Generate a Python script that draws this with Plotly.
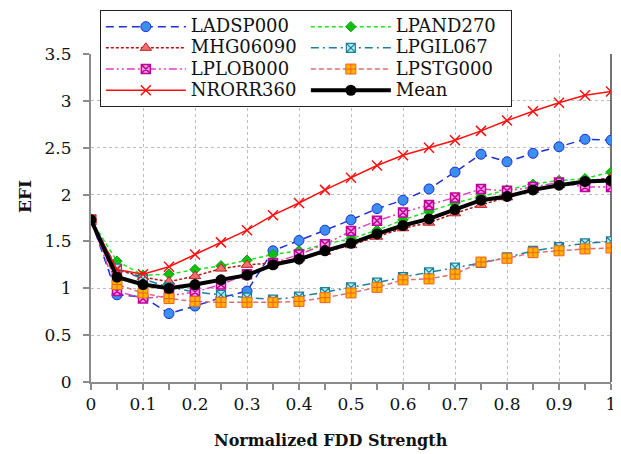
import plotly.graph_objects as go

# FDD strength steps
strength = [0, 0.05, 0.1, 0.15, 0.2, 0.25, 0.3, 0.35, 0.4, 0.45, 0.5,
            0.55, 0.6, 0.65, 0.7, 0.75, 0.8, 0.85, 0.9, 0.95, 1.0]

ladsp000 = [1.73, 0.93, 0.91, 0.73, 0.81, 0.90, 0.97, 1.40, 1.51, 1.62, 1.73,
            1.85, 1.94, 2.06, 2.24, 2.43, 2.35, 2.44, 2.51, 2.59, 2.58]
lpand270 = [1.73, 1.29, 1.14, 1.15, 1.20, 1.24, 1.30, 1.36, 1.40, 1.47, 1.53,
            1.62, 1.73, 1.82, 1.91, 1.98, 2.05, 2.11, 2.15, 2.17, 2.24]
mhg06090 = [1.73, 1.20, 1.12, 1.07, 1.13, 1.21, 1.25, 1.27, 1.32, 1.39, 1.46,
            1.55, 1.64, 1.70, 1.80, 1.89, 1.97, 2.05, 2.10, 2.14, 2.18]
lpgil067 = [1.73, 1.21, 1.10, 1.01, 0.96, 0.93, 0.90, 0.88, 0.91, 0.96, 1.01,
            1.06, 1.12, 1.17, 1.22, 1.27, 1.33, 1.40, 1.44, 1.48, 1.50]
lplob000 = [1.73, 0.97, 0.89, 0.92, 0.96, 1.04, 1.15, 1.27, 1.36, 1.47, 1.61,
            1.72, 1.81, 1.89, 1.97, 2.06, 2.04, 2.08, 2.13, 2.08, 2.08]
lpstg000 = [1.73, 1.04, 0.95, 0.89, 0.86, 0.85, 0.85, 0.85, 0.86, 0.90, 0.95,
            1.01, 1.09, 1.10, 1.15, 1.28, 1.32, 1.38, 1.40, 1.42, 1.43]
nrorr360 = [1.73, 1.20, 1.15, 1.23, 1.36, 1.49, 1.62, 1.78, 1.91, 2.05, 2.18,
            2.31, 2.42, 2.50, 2.58, 2.68, 2.79, 2.89, 2.98, 3.06, 3.10]
mean_efi = [1.73, 1.12, 1.04, 1.00, 1.04, 1.09, 1.14, 1.25, 1.31, 1.40, 1.48,
            1.58, 1.67, 1.74, 1.84, 1.94, 1.98, 2.05, 2.10, 2.14, 2.15]

FONT = "DejaVu Serif"

series = [
    ("LADSP000", ladsp000, dict(color="#1f2fd6", width=1.5, dash="8px,5px"),
     dict(symbol="circle", size=10, color="#3b8ff0", line=dict(color="#1f2fd6", width=1))),
    ("LPAND270", lpand270, dict(color="#22e022", width=1.5, dash="4px,3px"),
     dict(symbol="diamond", size=8, color="#10c010", line=dict(color="#10a010", width=1))),
    ("MHG06090", mhg06090, dict(color="#b81010", width=1.5, dash="3px,2px"),
     dict(symbol="triangle-up", size=10, color="#f07070", line=dict(color="#c02020", width=1))),
    ("LPGIL067", lpgil067, dict(color="#1f7f9a", width=1.5, dash="8px,4px,2px,4px"),
     dict(symbol="square-x", size=9, color="#a8eef0", line=dict(color="#1f7f9a", width=1.2))),
    ("LPLOB000", lplob000, dict(color="#e040c0", width=1.5, dash="8px,3px,2px,3px,2px,3px"),
     dict(symbol="square-x", size=9, color="#f7a0e0", line=dict(color="#c0009a", width=1.5))),
    ("LPSTG000", lpstg000, dict(color="#d87070", width=1.5, dash="5px,3px"),
     dict(symbol="square-cross", size=10, color="#ffb400", line=dict(color="#f06020", width=1))),
    ("NRORR360", nrorr360, dict(color="#ff1010", width=1.5),
     dict(symbol="x-thin-open", size=10, color="#ff1010", line=dict(color="#ff1010", width=1.5))),
    ("Mean", mean_efi, dict(color="black", width=4),
     dict(symbol="circle", size=11, color="black")),
]

fig = go.Figure()
for name, vals, line, marker in series:
    # bigger label text inside a tighter legend row
    label = f'<span style="font-size:18px">{name}</span>'
    fig.add_trace(go.Scatter(x=strength, y=vals, name=label, mode="lines+markers",
                             line=line, marker=marker))

# plot area in page pixels: x 91..611, y 54..382 (page body adds 8px)
def px_x(p):
    return (p - 91) / 520

def px_y(p):
    return (382 - p) / 328

# soft shadow behind the legend box
shadow = dict(type="rect", xref="paper", yref="paper",
              x0=px_x(104), x1=px_x(503), y0=px_y(14), y1=px_y(106),
              fillcolor="rgba(0,0,0,0.22)", line=dict(width=0), layer="above")

fig.update_layout(
    width=613, height=446,
    margin=dict(l=83, r=10, t=46, b=72, autoexpand=False),
    paper_bgcolor="white", plot_bgcolor="white",
    font=dict(family=FONT, size=17, color="#111"),
    legend=dict(orientation="h", x=0.017, y=1.134, xanchor="left", yanchor="top",
                entrywidth=110, itemwidth=80, bgcolor="white", bordercolor="#222",
                borderwidth=1, font=dict(family=FONT, size=14), tracegroupgap=0),
    shapes=[dict(type="line", xref="paper", yref="paper", x0=1, x1=1, y0=0, y1=1,
                 line=dict(color="#444", width=1.5), layer="below"), shadow],
    annotations=[
        dict(text="<b>Normalized FDD Strength</b>", xref="paper", yref="paper",
             x=px_x(331), y=px_y(440), showarrow=False, xanchor="center", yanchor="middle",
             font=dict(family=FONT, size=16)),
        dict(text="<b>EFI</b>", xref="paper", yref="paper", textangle=-90,
             x=px_x(25), y=px_y(197), showarrow=False, xanchor="center", yanchor="middle",
             font=dict(family=FONT, size=17)),
    ],
)
fig.update_xaxes(range=[0, 1], dtick=0.1, tick0=0, automargin=False,
                 showline=True, linecolor="#8c8c8c", linewidth=2,
                 ticks="outside", ticklen=6, tickcolor="#8c8c8c", tickwidth=1.5,
                 minor=dict(dtick=0.05, ticks="outside", ticklen=6, tickcolor="#8c8c8c", showgrid=False),
                 showgrid=True, gridcolor="#bdbdbd", griddash="dot", gridwidth=1,
                 zeroline=False)
fig.update_yaxes(range=[0, 3.5], dtick=0.5, tick0=0, automargin=False,
                 showline=True, linecolor="#8c8c8c", linewidth=2,
                 ticks="outside", ticklen=6, tickcolor="#8c8c8c", tickwidth=1.5,
                 showgrid=True, gridcolor="#bdbdbd", griddash="dot", gridwidth=1,
                 zeroline=False, ticklabelstandoff=8)

fig.write_html("out.html")
